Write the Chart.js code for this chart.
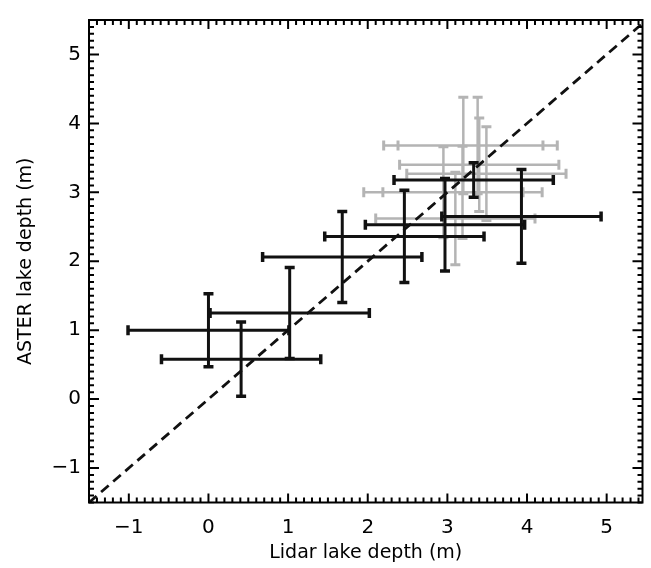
<!DOCTYPE html>
<html lang="en">
<head>
<meta charset="UTF-8">
<title>ASTER vs Lidar lake depth</title>
<script src="https://cdn.jsdelivr.net/npm/chart.js"></script>
<style>
  body { margin: 0; background: #fff; }
  #wrap { width: 651px; height: 568px; }
</style>
</head>
<body>
<div id="wrap"><canvas id="depthChart"></canvas></div>
<script>
// black points (lidar depth, aster depth, half error bars)
const blackX    = [0.00, 0.41, 1.02, 1.68, 2.46, 2.97, 3.33, 3.93];
const blackY    = [1.00, 0.58, 1.25, 2.06, 2.36, 2.53, 3.18, 2.65];
const blackXErr = [1.01, 1.00, 1.00, 1.00, 1.00, 1.00, 1.00, 1.00];
const blackYErr = [0.53, 0.54, 0.66, 0.66, 0.67, 0.67, 0.25, 0.68];

// grey points
const greyX    = [3.20, 3.38, 2.95, 3.19, 3.40, 3.49, 3.10];
const greyY    = [3.68, 3.68, 3.00, 3.00, 3.40, 3.27, 2.62];
const greyXErr = [1.00, 1.00, 1.00, 1.00, 1.00, 1.00, 1.00];
const greyYErr = [0.70, 0.70, 0.66, 0.67, 0.68, 0.68, 0.67];

// 1:1 line
const oneToOne = [-1.5, 5.5];

const xTicks = [-1, 0, 1, 2, 3, 4, 5];
const yTicks = [-1, 0, 1, 2, 3, 4, 5];

const BLACK = '#111111';
const GREY = '#b4b4b4';

// horizontal bars: two ends then a gap
function hBars(xs, ys, xe) {
    const pts = [];
    xs.forEach((x, i) => {
        pts.push({ x: x - xe[i], y: ys[i] }, { x: x + xe[i], y: ys[i] }, { x: x, y: null });
    });
    return pts;
}

function vBars(xs, ys, ye) {
    const pts = [];
    xs.forEach((x, i) => {
        pts.push({ x: x, y: ys[i] - ye[i] }, { x: x, y: ys[i] + ye[i] }, { x: x, y: null });
    });
    return pts;
}

function barSet(data, color, width, rot, order) {
    return {
        type: 'line',
        data: data,
        borderColor: color,
        borderWidth: width,
        pointStyle: 'line',
        pointRadius: 5,
        pointBorderWidth: width + 0.5,
        pointBorderColor: color,
        pointRotation: rot,
        spanGaps: false,
        tension: 0,
        order: order
    };
}

const frameTicks = {
    id: 'frameTicks',
    afterDatasetsDraw(chart) {
        const { ctx, chartArea: a, scales: { x, y } } = chart;
        ctx.save();
        ctx.strokeStyle = '#000';
        ctx.lineWidth = 2;
        ctx.strokeRect(a.left, a.top, a.right - a.left, a.bottom - a.top);
        ctx.beginPath();
        for (let i = Math.ceil(x.min * 10); i <= Math.floor(x.max * 10); i++) {
            const px = x.getPixelForValue(i / 10);
            const len = i % 10 === 0 ? 9 : 5;
            ctx.moveTo(px, a.bottom); ctx.lineTo(px, a.bottom - len);
            ctx.moveTo(px, a.top); ctx.lineTo(px, a.top + len);
        }
        for (let i = Math.ceil(y.min * 10); i <= Math.floor(y.max * 10); i++) {
            const py = y.getPixelForValue(i / 10);
            const len = i % 10 === 0 ? 10 : 5;
            ctx.moveTo(a.left, py); ctx.lineTo(a.left + len, py);
            ctx.moveTo(a.right, py); ctx.lineTo(a.right - len, py);
        }
        ctx.stroke();
        ctx.restore();
    }
};

const fmt = v => (v < 0 ? '\u2212' + Math.abs(v) : String(v));
const tickFont = { family: "'DejaVu Sans', sans-serif", size: 20 };
const titleFont = { family: "'DejaVu Sans', sans-serif", size: 19 };

new Chart(document.getElementById('depthChart'), {
    type: 'line',
    data: {
        datasets: [
            barSet(hBars(blackX, blackY, blackXErr), BLACK, 3, 90, 1),
            barSet(vBars(blackX, blackY, blackYErr), BLACK, 3, 0, 1),
            barSet(hBars(greyX, greyY, greyXErr), GREY, 2.5, 90, 3),
            barSet(vBars(greyX, greyY, greyYErr), GREY, 2.5, 0, 3),
            {
                type: 'line',
                data: oneToOne.map(v => ({ x: v, y: v })),
                borderColor: BLACK,
                borderWidth: 2.8,
                borderDash: [10, 6],
                pointRadius: 0,
                order: 2
            }
        ]
    },
    options: {
        responsive: true,
        maintainAspectRatio: false,
        animation: false,
        events: [],
        layout: { padding: { top: 16.5, right: 3, left: 0, bottom: 0 } },
        plugins: { legend: { display: false }, tooltip: { enabled: false } },
        scales: {
            x: {
                type: 'linear',
                position: 'bottom',
                min: -1.5,
                max: 5.45,
                grid: { display: false, drawTicks: false },
                border: { display: false },
                afterBuildTicks: s => { s.ticks = xTicks.map(v => ({ value: v })); },
                afterFit: s => { s.height = 65.5; },
                ticks: { color: '#000', font: tickFont, padding: 13, autoSkip: false, maxRotation: 0, callback: fmt },
                title: { display: true, text: 'Lidar lake depth (m)', color: '#000', font: titleFont, padding: { top: 0, bottom: 4 } }
            },
            y: {
                type: 'linear',
                position: 'left',
                min: -1.5,
                max: 5.5,
                grid: { display: false, drawTicks: false },
                border: { display: false },
                afterBuildTicks: s => { s.ticks = yTicks.map(v => ({ value: v })); },
                afterFit: s => { s.width = 89; },
                ticks: { color: '#000', font: tickFont, padding: 8, autoSkip: false, callback: fmt },
                title: { display: true, text: 'ASTER lake depth (m)', color: '#000', font: titleFont, padding: { top: 15, bottom: 0 } }
            }
        }
    },
    plugins: [frameTicks]
});
</script>
</body>
</html>
